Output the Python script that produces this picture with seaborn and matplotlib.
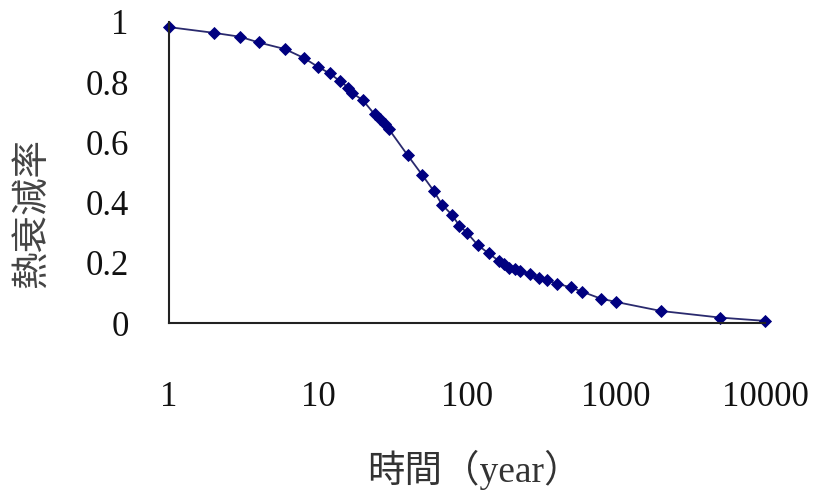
import matplotlib
matplotlib.use("Agg")
import matplotlib.pyplot as plt
import seaborn as sns
import pandas as pd

# Elapsed time (years) and remaining thermal decay fraction
years = [1, 2, 3, 4, 6, 8, 10, 12, 14, 16, 17, 20, 24, 26, 28, 30, 40, 50,
         60, 68, 79, 89, 100, 118, 140, 163, 176, 190, 211, 228, 266, 302,
         343, 400, 500, 593, 790, 1000, 2000, 5000, 10000]
decay = [0.983, 0.964, 0.951, 0.932, 0.910, 0.881, 0.851, 0.829, 0.804,
         0.782, 0.764, 0.740, 0.693, 0.677, 0.660, 0.643, 0.557, 0.492,
         0.438, 0.393, 0.360, 0.323, 0.300, 0.259, 0.231, 0.207, 0.196,
         0.184, 0.179, 0.173, 0.162, 0.151, 0.142, 0.131, 0.118, 0.104,
         0.081, 0.070, 0.040, 0.018, 0.007]

x_ticks = [1, 10, 100, 1000, 10000]
x_tick_labels = ["1", "10", "100", "1000", "10000"]
y_ticks = [0, 0.2, 0.4, 0.6, 0.8, 1.0]
y_tick_labels = ["0", "0.2", "0.4", "0.6", "0.8", "1"]

x_title = "時間（year）"
y_title = "熱衰減率"

df = pd.DataFrame({"year": years, "decay": decay})

sns.set_style("white")
plt.rcParams["font.family"] = ["Liberation Serif", "Noto Sans CJK TC", "DejaVu Sans"]

fig = plt.figure(figsize=(8.19, 5.04), dpi=100)
ax = fig.add_axes([169 / 819, 1 - 323 / 504, 596 / 819, 301 / 504])

sns.lineplot(data=df, x="year", y="decay", ax=ax, color="#2a2a6e",
             linewidth=1.3, marker="D", markersize=6.6,
             markerfacecolor="#000080", markeredgecolor="#000080",
             markeredgewidth=0.6, clip_on=False)

ax.set_xscale("log")
ax.set_xlim(1, 10000)
ax.set_ylim(0, 1)
ax.set_xticks(x_ticks)
ax.set_xticklabels(x_tick_labels)
ax.minorticks_off()
ax.set_yticks(y_ticks)
ax.set_yticklabels(y_tick_labels)

for side in ("top", "right"):
    ax.spines[side].set_visible(False)
for side in ("left", "bottom"):
    ax.spines[side].set_color("#222222")
    ax.spines[side].set_linewidth(1.5)

ax.tick_params(axis="x", direction="in", length=9, width=1.3, color="#222222",
               pad=42, labelsize=25, labelcolor="#111111")
ax.tick_params(axis="y", direction="in", length=9, width=1.3, color="#222222",
               pad=29, labelsize=25, labelcolor="#111111")

ax.set_xlabel(x_title, fontsize=27, color="#333333", va="center")
ax.xaxis.set_label_coords(0.512, -0.488)
ax.set_ylabel(y_title, fontsize=27, color="#444444", va="center", rotation=90)
ax.yaxis.set_label_coords(-0.228, 0.365)

fig.savefig("out.png", dpi=100)
